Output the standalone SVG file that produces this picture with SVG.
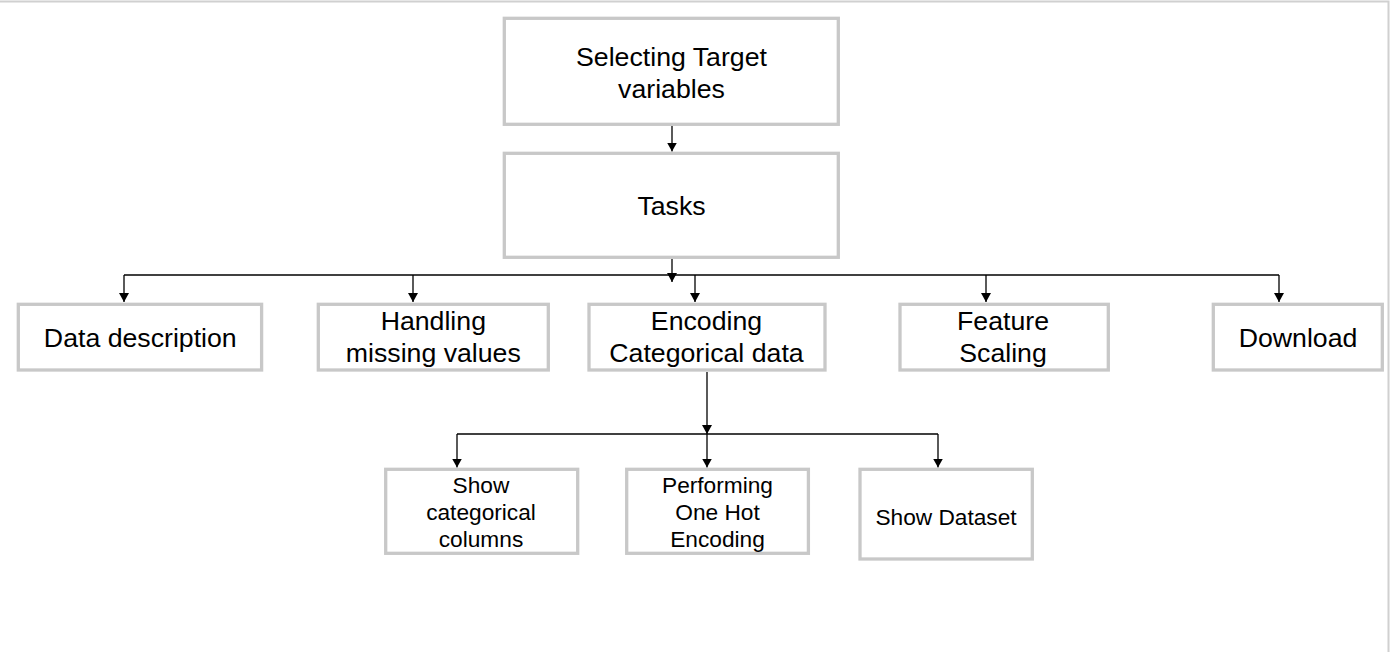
<svg xmlns="http://www.w3.org/2000/svg" width="1390" height="652" viewBox="0 0 1390 652">
  <style>
    .box { fill: #ffffff; stroke: #c8c8c8; stroke-width: 3.3; }
    .lbl { font-family: "Liberation Sans", Arial, sans-serif; fill: #000000; text-anchor: middle; }
    .big { font-size: 26.7px; }
    .small { font-size: 22.7px; }
    .con { fill: none; stroke: #000000; stroke-width: 1.3; }
    .arr { marker-end: url(#ah); }
    .frame { stroke: #d0d0d0; stroke-width: 2; fill: none; }
  </style>
  <defs>
    <marker id="ah" viewBox="0 0 9 10" markerWidth="9" markerHeight="10" refX="9" refY="5" orient="auto" markerUnits="userSpaceOnUse">
      <path d="M0,0 L9,5 L0,10 z" fill="#000000"/>
    </marker>
  </defs>
  <rect x="0" y="0" width="1390" height="652" fill="#ffffff"/>
  <path class="frame" d="M0 1.5 H1388.5 V652"/>

  <g id="connectors">
    <path class="con arr" d="M672 126 V151.5"/>
    <path class="con arr" d="M672 259 V282"/>
    <path class="con" d="M124 275 H1279"/>
    <path class="con arr" d="M124 275 V302"/>
    <path class="con arr" d="M413 275 V302"/>
    <path class="con arr" d="M695 275 V302"/>
    <path class="con arr" d="M986 275 V302"/>
    <path class="con arr" d="M1279 275 V302"/>
    <path class="con arr" d="M707 372 V434"/>
    <path class="con" d="M457 434 H938"/>
    <path class="con arr" d="M457 434 V467.5"/>
    <path class="con arr" d="M707 434 V467.5"/>
    <path class="con arr" d="M938 434 V467.5"/>
  </g>

  <g id="node-selecting">
    <rect class="box" x="504.3" y="18.3" width="334" height="106"/>
    <text class="lbl big" x="671.5" y="66">Selecting Target</text>
    <text class="lbl big" x="671.5" y="98">variables</text>
  </g>
  <g id="node-tasks">
    <rect class="box" x="504.3" y="153.3" width="334" height="104"/>
    <text class="lbl big" x="671.5" y="215">Tasks</text>
  </g>
  <g id="node-data-description">
    <rect class="box" x="18.3" y="304.3" width="243.3" height="65.7"/>
    <text class="lbl big" x="140.3" y="347">Data description</text>
  </g>
  <g id="node-handling">
    <rect class="box" x="318.3" y="304.3" width="230" height="65.7"/>
    <text class="lbl big" x="433.3" y="330">Handling</text>
    <text class="lbl big" x="433.3" y="362">missing values</text>
  </g>
  <g id="node-encoding">
    <rect class="box" x="589" y="304.3" width="236" height="65.7"/>
    <text class="lbl big" x="706.5" y="330">Encoding</text>
    <text class="lbl big" x="706.5" y="362">Categorical data</text>
  </g>
  <g id="node-feature-scaling">
    <rect class="box" x="900" y="304.3" width="208.3" height="65.7"/>
    <text class="lbl big" x="1003" y="330">Feature</text>
    <text class="lbl big" x="1003" y="362">Scaling</text>
  </g>
  <g id="node-download">
    <rect class="box" x="1213.3" y="304.3" width="169" height="65.7"/>
    <text class="lbl big" x="1298" y="347">Download</text>
  </g>
  <g id="node-show-categorical">
    <rect class="box" x="385.7" y="469.3" width="192" height="84"/>
    <text class="lbl small" x="481" y="493.3">Show</text>
    <text class="lbl small" x="481" y="519.8">categorical</text>
    <text class="lbl small" x="481" y="546.7">columns</text>
  </g>
  <g id="node-one-hot">
    <rect class="box" x="626.7" y="469.3" width="181.7" height="84"/>
    <text class="lbl small" x="717.5" y="493">Performing</text>
    <text class="lbl small" x="717.5" y="519.8">One Hot</text>
    <text class="lbl small" x="717.5" y="546.7">Encoding</text>
  </g>
  <g id="node-show-dataset">
    <rect class="box" x="860" y="469.3" width="172.3" height="89.7"/>
    <text class="lbl small" x="946" y="525">Show Dataset</text>
  </g>
</svg>
